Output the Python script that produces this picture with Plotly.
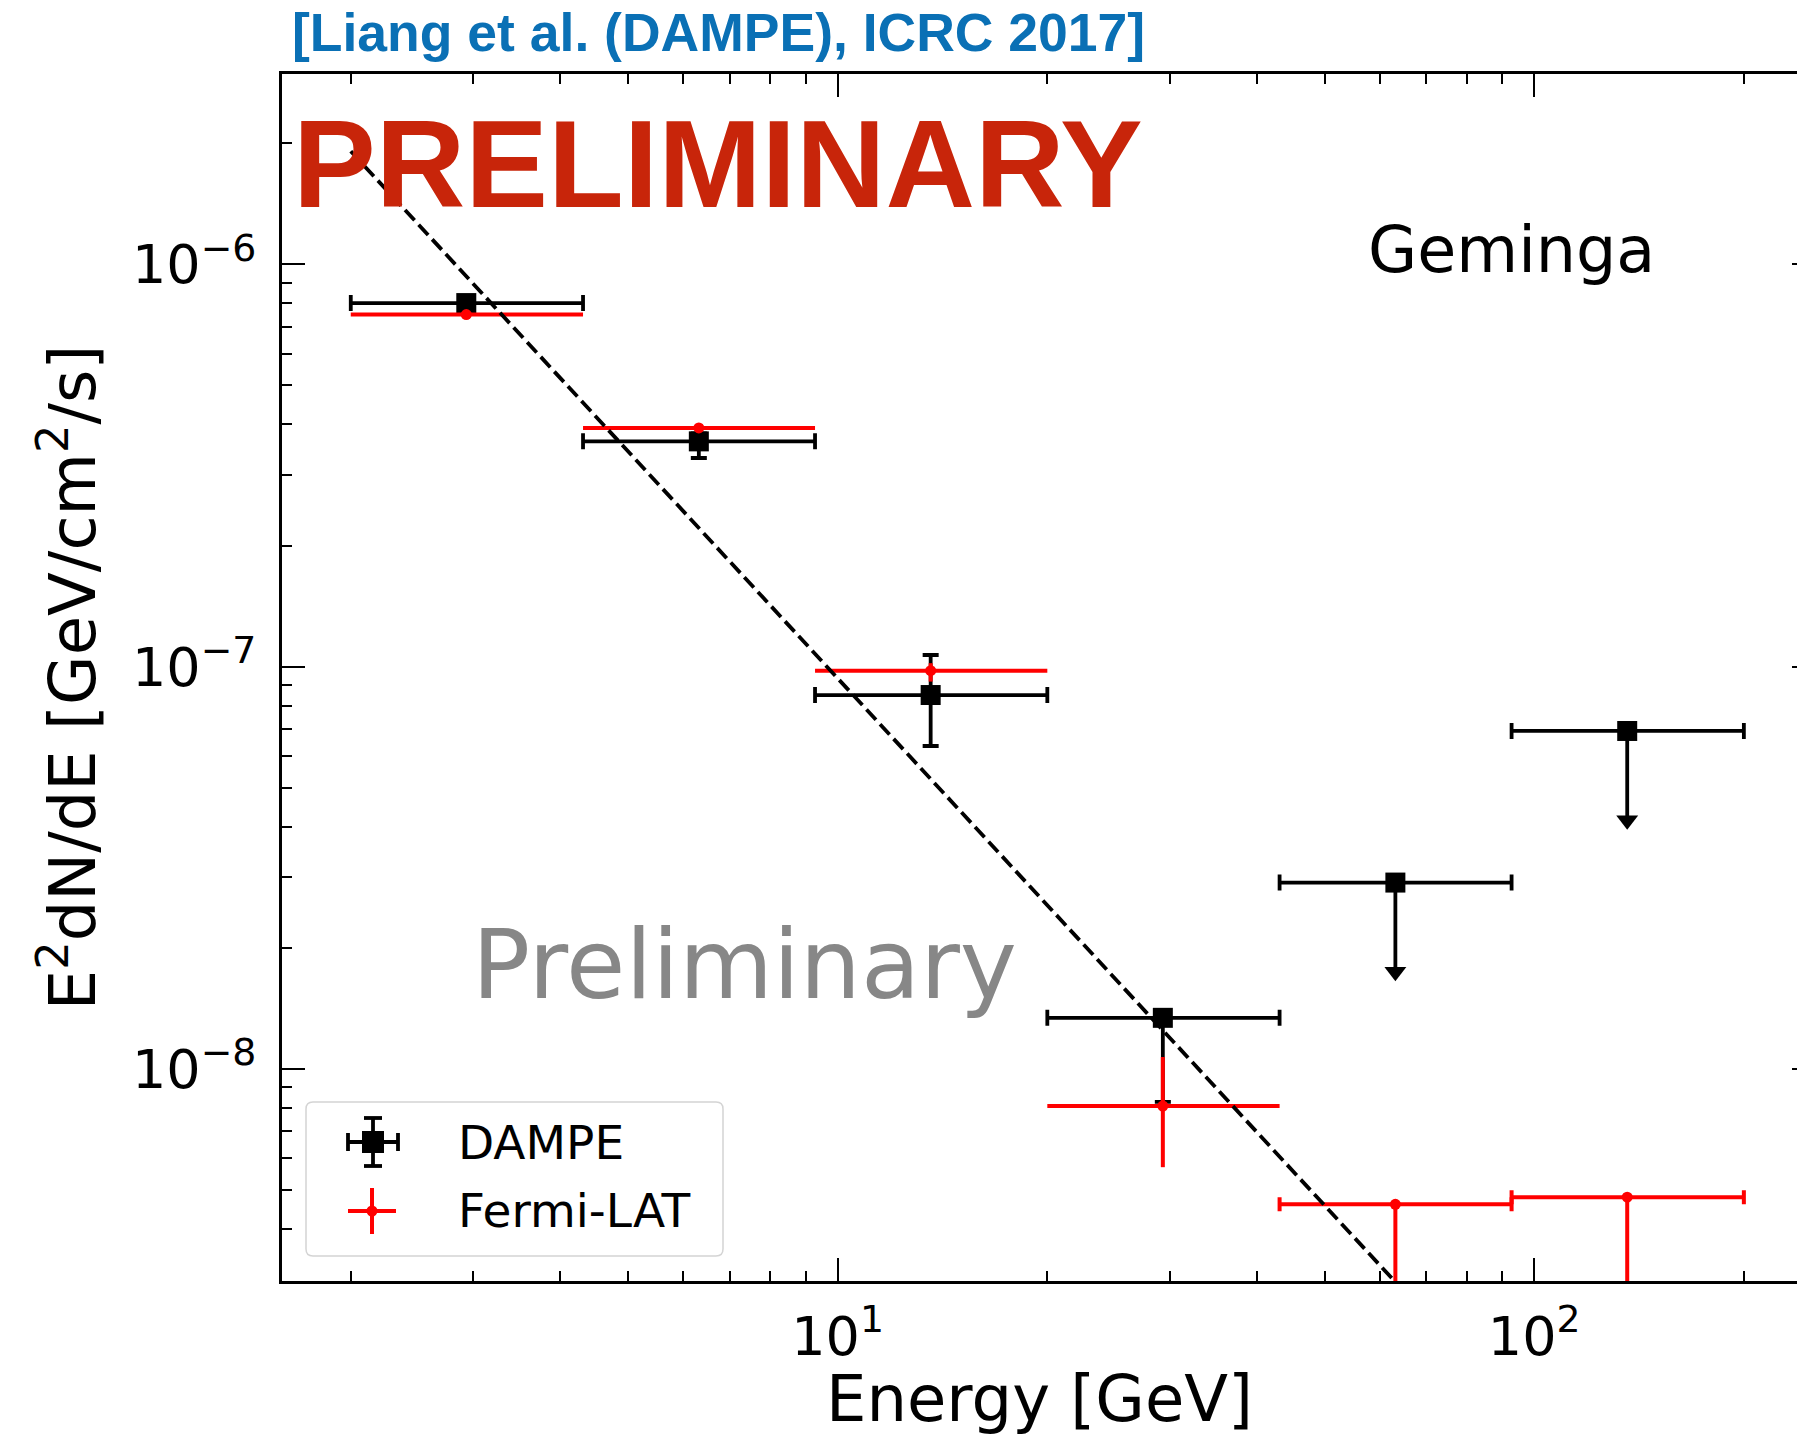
import plotly.graph_objects as go

# ---- Energy bins (GeV) ----
energy = [2.93, 6.32, 13.6, 29.3, 63.2, 136.0]
bin_lo = [2.0, 4.31, 9.28, 20.0, 43.1, 92.8]
bin_hi = [4.31, 9.28, 20.0, 43.1, 92.8, 200.0]

# ---- DAMPE: measured points (first four bins) and upper limits (last two) ----
dampe_flux = [8.01e-7, 3.63e-7, 8.50e-8, 1.34e-8]
dampe_up = [8.25e-7, 3.80e-7, 1.069e-7, 1.40e-8]
dampe_down = [7.80e-7, 3.30e-7, 6.35e-8, 8.28e-9]
dampe_ul = [2.906e-8, 6.92e-8]

# ---- Fermi-LAT: measured points and upper limits ----
fermi_flux = [7.50e-7, 3.92e-7, 9.77e-8, 8.09e-9]
fermi_up = [7.62e-7, 3.98e-7, 1.02e-7, 1.071e-8]
fermi_down = [7.38e-7, 3.86e-7, 9.18e-8, 5.70e-9]
fermi_ul = [4.61e-9, 4.80e-9]

# ---- Power-law model (straight line in log-log) ----
model_energy = [2.0, 200.0]
model_flux = [1.91e-6, 3.41e-10]

# fraction of the value spanned by an upper-limit arrow
UL_ARROW = 0.4

n_det = len(dampe_flux)
e_det, e_ul = energy[:n_det], energy[n_det:]
lo_det, lo_ul = bin_lo[:n_det], bin_lo[n_det:]
hi_det, hi_ul = bin_hi[:n_det], bin_hi[n_det:]


def xerr(e, lo, hi):
    return dict(type="data", symmetric=False,
                array=[h - c for c, h in zip(e, hi)],
                arrayminus=[c - l for c, l in zip(e, lo)])


def yerr(v, up, down):
    return dict(type="data", symmetric=False,
                array=[u - c for c, u in zip(v, up)],
                arrayminus=[c - d for c, d in zip(v, down)])


BLACK, RED = "#000000", "#ff0000"
BW, RW = 3.8, 4.0
fig = go.Figure()

# DAMPE measured
fig.add_trace(go.Scatter(
    x=e_det, y=dampe_flux, mode="markers", name="DAMPE",
    marker=dict(symbol="square", size=20, color=BLACK),
    error_x=dict(**xerr(e_det, lo_det, hi_det), color=BLACK, thickness=BW, width=8),
    error_y=dict(**yerr(dampe_flux, dampe_up, dampe_down), color=BLACK, thickness=BW, width=8),
))
# DAMPE upper limits
fig.add_trace(go.Scatter(
    x=e_ul, y=dampe_ul, mode="markers", showlegend=False,
    marker=dict(symbol="square", size=20, color=BLACK),
    error_x=dict(**xerr(e_ul, lo_ul, hi_ul), color=BLACK, thickness=BW, width=8),
    error_y=dict(type="data", symmetric=False, array=[0] * len(dampe_ul),
                 arrayminus=[UL_ARROW * v for v in dampe_ul],
                 color=BLACK, thickness=BW, width=0),
))
fig.add_trace(go.Scatter(
    x=e_ul, y=[(1 - UL_ARROW) * v for v in dampe_ul], mode="markers",
    showlegend=False, hoverinfo="skip",
    marker=dict(symbol="triangle-down", size=19, color=BLACK),
))

# Fermi-LAT measured
fig.add_trace(go.Scatter(
    x=e_det, y=fermi_flux, mode="markers", name="Fermi-LAT",
    marker=dict(symbol="circle", size=11, color=RED),
    error_x=dict(**xerr(e_det, lo_det, hi_det), color=RED, thickness=RW, width=0),
    error_y=dict(**yerr(fermi_flux, fermi_up, fermi_down), color=RED, thickness=RW, width=0),
))
# Fermi-LAT upper limits
fig.add_trace(go.Scatter(
    x=e_ul, y=fermi_ul, mode="markers", showlegend=False,
    marker=dict(symbol="circle", size=11, color=RED),
    error_x=dict(**xerr(e_ul, lo_ul, hi_ul), color=RED, thickness=RW, width=7),
    error_y=dict(type="data", symmetric=False, array=[0] * len(fermi_ul),
                 arrayminus=[UL_ARROW * v for v in fermi_ul],
                 color=RED, thickness=RW, width=0),
))
fig.add_trace(go.Scatter(
    x=e_ul, y=[(1 - UL_ARROW) * v for v in fermi_ul], mode="markers",
    showlegend=False, hoverinfo="skip",
    marker=dict(symbol="triangle-down", size=17, color=RED),
))

# power-law fit
fig.add_trace(go.Scatter(
    x=model_energy, y=model_flux, mode="lines", showlegend=False,
    line=dict(color=BLACK, width=3.8, dash="14px,6px"),
))

# empty trace that carries the right-hand tick axis
fig.add_trace(go.Scatter(x=[], y=[], yaxis="y2", showlegend=False, hoverinfo="skip"))

# ---- layout geometry (pixels) ----
FIG_W, FIG_H = 1797, 1436
L, T, B = 282, 74, 1281
R = FIG_W
W, H = R - L, B - T


def px_x(p):
    return (p - L) / W


def px_y(p):
    return (B - p) / H


FONT = "DejaVu Sans"
x_minor = [2, 3, 4, 5, 6, 7, 8, 9, 20, 30, 40, 50, 60, 70, 80, 90, 200]
y_minor = ([k * 1e-9 for k in range(4, 10)] + [k * 1e-8 for k in range(2, 10)]
           + [k * 1e-7 for k in range(2, 10)] + [2e-6])
y_major = [1e-8, 1e-7, 1e-6]

axis_common = dict(
    type="log", showgrid=False, zeroline=False,
    ticks="inside", ticklen=23, tickwidth=2.2, tickcolor=BLACK,
    showline=True, linecolor=BLACK, linewidth=2.6,
    tickfont=dict(family=FONT, size=54, color=BLACK),
)

fig.update_layout(
    width=FIG_W, height=FIG_H,
    margin=dict(l=L, r=FIG_W - R, t=T, b=FIG_H - B, pad=0),
    paper_bgcolor="white", plot_bgcolor="white",
    showlegend=False,
    xaxis=dict(
        **axis_common, range=[0.2023, 2.3773], mirror="ticks",
        tickvals=[10, 100], ticktext=["10<sup>1</sup>", "10<sup>2</sup>"],
        ticklabelstandoff=6,
        minor=dict(tickvals=x_minor, ticks="inside", ticklen=10, tickwidth=2,
                   tickcolor=BLACK, showgrid=False),
        title=dict(text="Energy [GeV]", font=dict(family=FONT, size=64, color=BLACK),
                   standoff=2),
    ),
    yaxis=dict(
        **axis_common, range=[-8.527, -5.527], mirror=False,
        tickvals=y_major,
        ticktext=["10<sup>\u22128</sup>", "10<sup>\u22127</sup>", "10<sup>\u22126</sup>"],
        ticklabelstandoff=12,
        minor=dict(tickvals=y_minor, ticks="inside", ticklen=10, tickwidth=2,
                   tickcolor=BLACK, showgrid=False),
        title=dict(text="E<sup>2</sup>dN/dE [GeV/cm<sup>2</sup>/s]",
                   font=dict(family=FONT, size=64, color=BLACK), standoff=16),
    ),
    yaxis2=dict(
        type="log", range=[-8.527, -5.527], overlaying="y", side="right",
        anchor="free", position=1, showgrid=False, zeroline=False, showline=False,
        ticks="inside", ticklen=5, tickwidth=2.2, tickcolor=BLACK,
        tickvals=y_major, showticklabels=False,
    ),
)

# ---- text ----
annotations = [
    dict(text="[Liang et al. (DAMPE), ICRC 2017]", x=px_x(290), y=px_y(32),
         xanchor="left", yanchor="middle",
         font=dict(family="Liberation Sans", size=53.5, color="#0a70b5", weight="bold")),
    dict(text="PRELIMINARY", x=px_x(291), y=px_y(164),
         xanchor="left", yanchor="middle",
         font=dict(family="Liberation Sans", size=124, color="#c8250a", weight="bold")),
    dict(text="Geminga", x=px_x(1366), y=px_y(250),
         xanchor="left", yanchor="middle",
         font=dict(family=FONT, size=63.5, color=BLACK)),
    dict(text="Preliminary", x=px_x(470), y=px_y(964),
         xanchor="left", yanchor="middle",
         font=dict(family=FONT, size=96.5, color="#878787")),
    dict(text="DAMPE", x=px_x(456), y=px_y(1142),
         xanchor="left", yanchor="middle",
         font=dict(family=FONT, size=47, color=BLACK)),
    dict(text="Fermi-LAT", x=px_x(456), y=px_y(1210),
         xanchor="left", yanchor="middle",
         font=dict(family=FONT, size=47, color=BLACK)),
]
for a in annotations:
    a.update(xref="paper", yref="paper", showarrow=False)
fig.update_layout(annotations=annotations)

# ---- legend frame and keys ----
shapes = []
bx0, bx1, by0, by1, rr = 306, 723, 1102, 1256, 7
path = (
    f"M {px_x(bx0 + rr)},{px_y(by0)} L {px_x(bx1 - rr)},{px_y(by0)} "
    f"Q {px_x(bx1)},{px_y(by0)} {px_x(bx1)},{px_y(by0 + rr)} "
    f"L {px_x(bx1)},{px_y(by1 - rr)} "
    f"Q {px_x(bx1)},{px_y(by1)} {px_x(bx1 - rr)},{px_y(by1)} "
    f"L {px_x(bx0 + rr)},{px_y(by1)} "
    f"Q {px_x(bx0)},{px_y(by1)} {px_x(bx0)},{px_y(by1 - rr)} "
    f"L {px_x(bx0)},{px_y(by0 + rr)} "
    f"Q {px_x(bx0)},{px_y(by0)} {px_x(bx0 + rr)},{px_y(by0)} Z"
)
shapes.append(dict(type="path", path=path, fillcolor="white",
                   line=dict(color="#d4d4d4", width=1.5), layer="above"))


def seg(x0, y0, x1, y1, color, width):
    return dict(type="line", x0=px_x(x0), y0=px_y(y0), x1=px_x(x1), y1=px_y(y1),
                line=dict(color=color, width=width), layer="above")


# DAMPE key
cx, cy = 373, 1142
shapes += [
    seg(cx - 25, cy, cx + 25, cy, BLACK, BW),
    seg(cx, cy - 24, cx, cy + 24, BLACK, BW),
    seg(cx - 25, cy - 9, cx - 25, cy + 9, BLACK, BW),
    seg(cx + 25, cy - 9, cx + 25, cy + 9, BLACK, BW),
    seg(cx - 9, cy - 24, cx + 9, cy - 24, BLACK, BW),
    seg(cx - 9, cy + 24, cx + 9, cy + 24, BLACK, BW),
    dict(type="rect", x0=px_x(cx - 11), x1=px_x(cx + 11), y0=px_y(cy - 11), y1=px_y(cy + 11),
         fillcolor=BLACK, line=dict(width=0), layer="above"),
]
# Fermi-LAT key
fx, fy = 372, 1211
shapes += [
    seg(fx - 24, fy, fx + 24, fy, RED, RW),
    seg(fx, fy - 23, fx, fy + 23, RED, RW),
    dict(type="circle", x0=px_x(fx - 5.5), x1=px_x(fx + 5.5), y0=px_y(fy - 5.5), y1=px_y(fy + 5.5),
         fillcolor=RED, line=dict(width=0), layer="above"),
]
for s in shapes:
    s.setdefault("xref", "paper")
    s.setdefault("yref", "paper")
fig.update_layout(shapes=shapes)

fig.write_html("out.html")
